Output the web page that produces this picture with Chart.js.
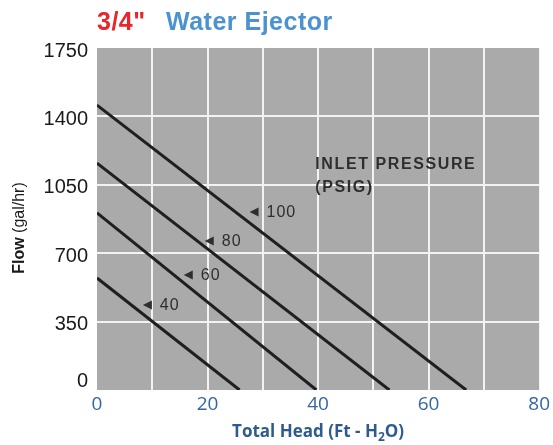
<!DOCTYPE html>
<html>
<head>
<meta charset="utf-8">
<script src="https://cdn.jsdelivr.net/npm/chart.js@4"></script>
<style>
  html, body { margin: 0; padding: 0; background: #fff; }
  #wrap { width: 553px; height: 445px; position: relative; }
</style>
</head>
<body>
<div id="wrap"><canvas id="chart"></canvas></div>
<script>
// inlet pressure curves (psig)
const pressures = [40, 60, 80, 100];
const flowAtZeroHead = [573, 906, 1161, 1458];   // gal/hr where head = 0
const headAtZeroFlow = [25.8, 39.7, 52.9, 66.8]; // ft where flow = 0

// axis ranges / ticks
const headTicks = [0, 20, 40, 60, 80];
const flowTicks = [0, 350, 700, 1050, 1400, 1750];
const headGridStep = 10;
const flowGridStep = 175;

// where the pressure labels sit (data coords: head, flow)
const labelHead = [8.3, 15.7, 19.5, 27.6];
const labelFlow = [435, 588, 762, 911];

const datasets = pressures.map(function (p, i) {
  return {
    label: p + ' psig',
    data: [{ x: 0, y: flowAtZeroHead[i] }, { x: headAtZeroFlow[i], y: 0 }],
    borderColor: '#1f1f1f',
    borderWidth: 3,
    pointRadius: 0,
    fill: false,
  };
});

const gridColor = function (ctx) {
  const scale = ctx.scale;
  if (ctx.tick.value === scale.min || ctx.tick.value === scale.max) return 'rgba(0,0,0,0)';
  return '#f3f3f3';
};

const decorations = {
  id: 'decorations',
  beforeDraw: function (chart) {
    const ctx = chart.ctx;
    const a = chart.chartArea;
    ctx.save();
    ctx.fillStyle = '#aaaaaa';
    ctx.fillRect(a.left, a.top, a.right - a.left, a.bottom - a.top);
    ctx.restore();
  },
  afterDraw: function (chart) {
    const ctx = chart.ctx;
    const xs = chart.scales.x;
    const ys = chart.scales.y;
    ctx.save();

    // title
    ctx.textBaseline = 'alphabetic';
    ctx.textAlign = 'left';
    ctx.font = 'bold 25px "Liberation Sans"';
    ctx.letterSpacing = '0.5px';
    ctx.fillStyle = '#e8262b';
    ctx.fillText('3/4"', 97, 30);
    ctx.fillStyle = '#4b92d0';
    ctx.fillText('Water Ejector', 166, 30);
    ctx.letterSpacing = '0px';

    // pressure labels with little arrows
    ctx.fillStyle = '#2e2e2e';
    ctx.font = '16px "Liberation Sans"';
    ctx.textBaseline = 'middle';
    ctx.letterSpacing = '1px';
    pressures.forEach(function (p, i) {
      const px = xs.getPixelForValue(labelHead[i]);
      const py = ys.getPixelForValue(labelFlow[i]);
      ctx.beginPath();
      ctx.moveTo(px, py);
      ctx.lineTo(px + 9, py - 4.5);
      ctx.lineTo(px + 9, py + 4.5);
      ctx.closePath();
      ctx.fill();
      ctx.fillText(String(p), px + 17, py + 1);
    });

    ctx.font = 'bold 16px "Liberation Sans"';
    ctx.letterSpacing = '1.6px';
    const tx = xs.getPixelForValue(39.5);
    ctx.fillText('INLET PRESSURE', tx, ys.getPixelForValue(1151));
    ctx.fillText('(PSIG)', tx, ys.getPixelForValue(1034));
    ctx.letterSpacing = '0px';

    // x axis title with subscript
    ctx.fillStyle = '#2f5b8c';
    ctx.textBaseline = 'alphabetic';
    const big = 'bold 17px "Open Sans"';
    const small = 'bold 12px "Open Sans"';
    const partA = 'Total Head (Ft - H';
    const partB = '2';
    const partC = 'O)';
    ctx.font = big;
    const wA = ctx.measureText(partA).width;
    const wC = ctx.measureText(partC).width;
    ctx.font = small;
    const wB = ctx.measureText(partB).width;
    const total = wA + wB + wC;
    let x0 = (xs.left + xs.right) / 2 - total / 2;
    const base = 437;
    ctx.font = big;
    ctx.fillText(partA, x0, base);
    ctx.font = small;
    ctx.fillText(partB, x0 + wA, base + 4);
    ctx.font = big;
    ctx.fillText(partC, x0 + wA + wB, base);

    // y axis title, bold + regular
    ctx.save();
    ctx.translate(24, 228);
    ctx.rotate(-Math.PI / 2);
    ctx.fillStyle = '#1a1a1a';
    ctx.font = 'bold 16px "Liberation Sans"';
    const wf = ctx.measureText('Flow ').width;
    ctx.font = '16px "Liberation Sans"';
    const wg = ctx.measureText('(gal/hr)').width;
    const start = -(wf + wg) / 2;
    ctx.font = 'bold 16px "Liberation Sans"';
    ctx.fillText('Flow ', start, 0);
    ctx.font = '16px "Liberation Sans"';
    ctx.fillText('(gal/hr)', start + wf, 0);
    ctx.restore();

    ctx.restore();
  },
};

new Chart(document.getElementById('chart'), {
  type: 'line',
  data: { datasets: datasets },
  options: {
    responsive: true,
    maintainAspectRatio: false,
    animation: false,
    layout: { padding: { top: 48, right: 13, bottom: 0, left: 0 } },
    plugins: {
      legend: { display: false },
      tooltip: { enabled: false },
    },
    scales: {
      x: {
        type: 'linear',
        min: headTicks[0],
        max: headTicks[headTicks.length - 1],
        ticks: {
          stepSize: headGridStep,
          color: '#3566a0',
          font: { family: 'Open Sans', size: 19 },
          padding: 3,
          maxRotation: 0,
          callback: function (v) { return headTicks.includes(v) ? String(v) : ''; },
        },
        grid: { color: gridColor, lineWidth: 2, drawTicks: false },
        border: { display: false },
        afterFit: function (s) { s.height = 55; },
      },
      y: {
        min: flowTicks[0],
        max: flowTicks[flowTicks.length - 1],
        ticks: {
          stepSize: flowGridStep,
          color: '#1a1a1a',
          font: { family: 'Liberation Sans', size: 20 },
          padding: 9,
          labelOffset: 3,
          callback: function (v) {
            if (!flowTicks.includes(v)) return '';
            return v === 0 ? ['0', ''] : String(v);
          },
        },
        grid: { color: gridColor, lineWidth: 2, drawTicks: false },
        border: { display: false },
        afterFit: function (s) { s.width = 97; },
      },
    },
  },
  plugins: [decorations],
});
</script>
</body>
</html>
